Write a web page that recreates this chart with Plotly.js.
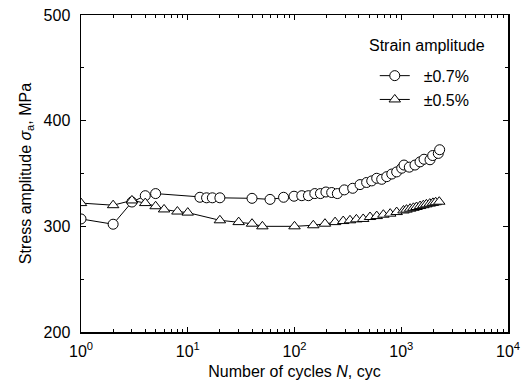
<!DOCTYPE html>
<html>
<head>
<meta charset="utf-8">
<script src="https://cdn.plot.ly/plotly-3.0.1.min.js"></script>
<style>html,body{margin:0;padding:0;background:#fff;}#chart{width:521px;height:385px;}</style>
</head>
<body>
<div id="chart"></div>
<script>
// Strain amplitude ±0.7 %
var cyclesA = [1, 2, 3, 4, 5, 13, 15, 17, 20, 40, 59, 79, 99, 117, 135, 155, 175, 197, 223, 252, 293, 351, 411, 474, 529, 589, 656, 731, 815, 906, 1010, 1061, 1190, 1345, 1499, 1635, 1859, 1969, 2223, 2290];
var stressA = [307, 302, 323, 329, 331, 327.5, 327, 327, 327, 326.5, 325.5, 327.5, 328.5, 329, 329, 331, 331, 332.5, 332, 331, 334.5, 336, 339.5, 341.5, 343, 345.5, 344.5, 347, 349.5, 351.5, 355, 358, 356, 358, 361, 363.5, 363, 367, 369, 372.5];
// Strain amplitude ±0.5 %
var cyclesB = [1, 2, 3, 4, 5, 6, 8, 10, 20, 30, 40, 50, 100, 150, 193, 240, 286, 331, 380, 440, 510, 589, 680, 788, 906, 1050, 1120, 1210, 1300, 1390, 1500, 1610, 1720, 1850, 1980, 2100, 2270];
var stressB = [322, 320, 324.5, 322, 319, 316, 314, 313, 305.7, 304, 302.5, 300, 300, 301, 302.5, 304, 305, 305.7, 306.6, 307, 308.8, 309.7, 311, 312, 313.5, 315, 315.8, 316.7, 317.5, 318.3, 319.2, 320, 320.8, 321.5, 322.2, 322.8, 323.3];
var seriesNames = ['\u00A0\u00A0\u00B10.7%', '\u00A0\u00A0\u00B10.5%'];
var xTickVals = [1, 10, 100, 1000, 10000];
var xTickText = ['10<sup>0</sup>', '10<sup>1</sup>', '10<sup>2</sup>', '10<sup>3</sup>', '10<sup>4</sup>'];
var yTickVals = [200, 300, 400, 500];

var fontFam = 'Liberation Sans, Arial, sans-serif';
var traces = [
  {x: cyclesA, y: stressA, name: seriesNames[0], type: 'scatter', mode: 'lines+markers',
   line: {color: '#000', width: 1},
   marker: {symbol: 'circle', size: 10, color: '#fff', line: {color: '#000', width: 1}}},
  {x: cyclesB, y: stressB, name: seriesNames[1], type: 'scatter', mode: 'lines+markers',
   line: {color: '#000', width: 1},
   marker: {symbol: 'triangle-up', size: 10, color: '#fff', line: {color: '#000', width: 1}}}
];
var axisCommon = {
  showline: true, linecolor: '#000', linewidth: 1.5, mirror: 'allticks',
  ticks: 'inside', ticklen: 5, tickwidth: 1, tickcolor: '#000',
  showgrid: false, zeroline: false,
  tickfont: {family: fontFam, size: 16, color: '#000'}
};
var layout = {
  width: 521, height: 385,
  margin: {l: 81, r: 13, t: 15, b: 53},
  paper_bgcolor: '#fff', plot_bgcolor: '#fff',
  font: {family: fontFam, size: 16, color: '#000'},
  showlegend: true,
  xaxis: Object.assign({}, axisCommon, {
    type: 'log', range: [0, 4],
    tickmode: 'array', tickvals: xTickVals, ticktext: xTickText,
    ticklabelstandoff: 4,
    minor: {dtick: 'D1', ticks: 'inside', ticklen: 3, tickcolor: '#000', showgrid: false},
    title: {text: 'Number of cycles <i>N</i>, cyc', font: {family: fontFam, size: 16}, standoff: 7}
  }),
  yaxis: Object.assign({}, axisCommon, {
    range: [200, 500], tickmode: 'array', tickvals: yTickVals,
    ticklabelstandoff: 6,
    minor: {dtick: 50, ticks: 'inside', ticklen: 3, tickcolor: '#000', showgrid: false},
    title: {text: 'Stress amplitude <i>\u03C3</i><sub>a</sub>, MPa', font: {family: fontFam, size: 16}, standoff: 8}
  }),
  legend: {x: 0.688, y: 0.862, xanchor: 'left', yanchor: 'top', bgcolor: 'rgba(0,0,0,0)',
    font: {family: fontFam, size: 16}, itemwidth: 30},
  annotations: [{text: 'Strain amplitude', xref: 'paper', yref: 'paper', x: 0.67, y: 0.905,
    xanchor: 'left', yanchor: 'middle', showarrow: false, font: {family: fontFam, size: 16}}]
};
Plotly.newPlot('chart', traces, layout, {displayModeBar: false, staticPlot: true});
</script>
</body>
</html>
